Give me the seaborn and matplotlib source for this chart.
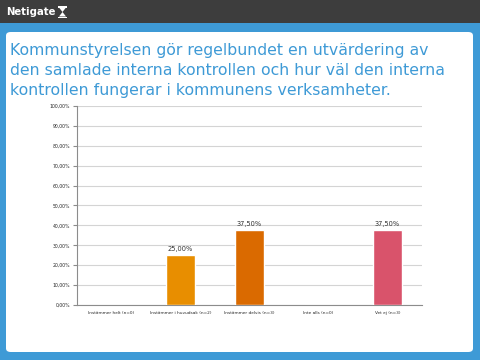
import numpy as np
import pandas as pd
import matplotlib
matplotlib.use("Agg")
import matplotlib.pyplot as plt
from matplotlib.patches import FancyBboxPatch, Rectangle, Polygon
from matplotlib.ticker import FixedLocator, FuncFormatter
import seaborn as sns

# data
categories = ["Instämmer helt (n=0)", "Instämmer i huvudsak (n=2)",
              "Instämmer delvis (n=3)", "Inte alls (n=0)", "Vet ej (n=3)"]
percent = [0.0, 25.0, 37.5, 0.0, 37.5]
bar_colors = ["#E88E00", "#E88E00", "#DA6A00", "#DA6A00", "#D9536B"]
title = ("Kommunstyrelsen gör regelbundet en utvärdering av\n"
         "den samlade interna kontrollen och hur väl den interna\n"
         "kontrollen fungerar i kommunens verksamheter.")

sns.set_theme(style="white")
plt.rcParams["font.family"] = ["DejaVu Sans"]

fig = plt.figure(figsize=(4.8, 3.6), dpi=100)
fig.patch.set_facecolor("#3E9AD6")

W, H = 480, 360
def fx(px):
    return px / W
def fy(py):
    return 1 - py / H

# header bar + white panel
fig.add_artist(Rectangle((0, fy(23)), 1, 23 / H, transform=fig.transFigure,
                         facecolor="#3D3D3D", edgecolor="none", zorder=0))
fig.add_artist(FancyBboxPatch((fx(6), fy(352)), 467 / W, 320 / H,
                              boxstyle="round,pad=0,rounding_size=0.01",
                              transform=fig.transFigure, facecolor="white",
                              edgecolor="none", zorder=0))
fig.text(fx(6), fy(12), "Netigate", color="white", fontsize=7.3,
         fontweight="bold", va="center", ha="left")
# small logo mark (hourglass with bars)
for poly in ([(58, 6), (67, 6), (67, 7.5), (58, 7.5)],
             [(58, 16.5), (67, 16.5), (67, 18), (58, 18)],
             [(59, 7.5), (66, 7.5), (62.5, 12)],
             [(62.5, 12), (66, 16.5), (59, 16.5)]):
    fig.add_artist(Polygon([(fx(a), fy(b)) for a, b in poly], closed=True,
                           transform=fig.transFigure, facecolor="white",
                           edgecolor="none"))
fig.text(fx(10), fy(43), title, color="#3E9AD6", fontsize=11.3,
         va="top", ha="left", linespacing=1.42)

df = pd.DataFrame({"cat": categories, "pct": percent})
ax = fig.add_axes([fx(77), fy(305), 345 / W, 199 / H])
sns.barplot(data=df, x="cat", y="pct", hue="cat", palette=bar_colors,
            legend=False, width=0.41, saturation=1, ax=ax, zorder=3)

ax.set_ylim(0, 100)
ax.set_xlim(-0.5, len(categories) - 0.5)
ax.yaxis.set_major_locator(FixedLocator(np.arange(0, 101, 10)))
ax.yaxis.set_major_formatter(FuncFormatter(lambda v, p: f"{v:.2f}%".replace(".", ",")))
ax.grid(axis="y", color="#D4D4D4", lw=0.8, zorder=0)
ax.set_axisbelow(True)
ax.set_xlabel("")
ax.set_ylabel("")
for s in ["top", "right"]:
    ax.spines[s].set_visible(False)
for s in ["left", "bottom"]:
    ax.spines[s].set_color("#8C8C8C")
    ax.spines[s].set_linewidth(0.8)

ax.set_xticks(range(len(categories)))
ax.set_xticklabels(categories)
ax.set_xticks(np.arange(-0.5, len(categories)), minor=True)
ax.tick_params(axis="x", which="major", length=0, labelsize=3.1, pad=4)
ax.tick_params(axis="x", which="minor", length=3, color="#8C8C8C", width=0.8)
ax.tick_params(axis="y", length=3, color="#8C8C8C", width=0.8, labelsize=3.3,
               left=True, pad=2)

for i, v in enumerate(percent):
    if v > 0:
        ax.text(i, v + 1.5, f"{v:.2f}%".replace(".", ","), ha="center",
                va="bottom", fontsize=4.8, color="#333333")

fig.savefig("out.png", dpi=100, facecolor=fig.get_facecolor())
